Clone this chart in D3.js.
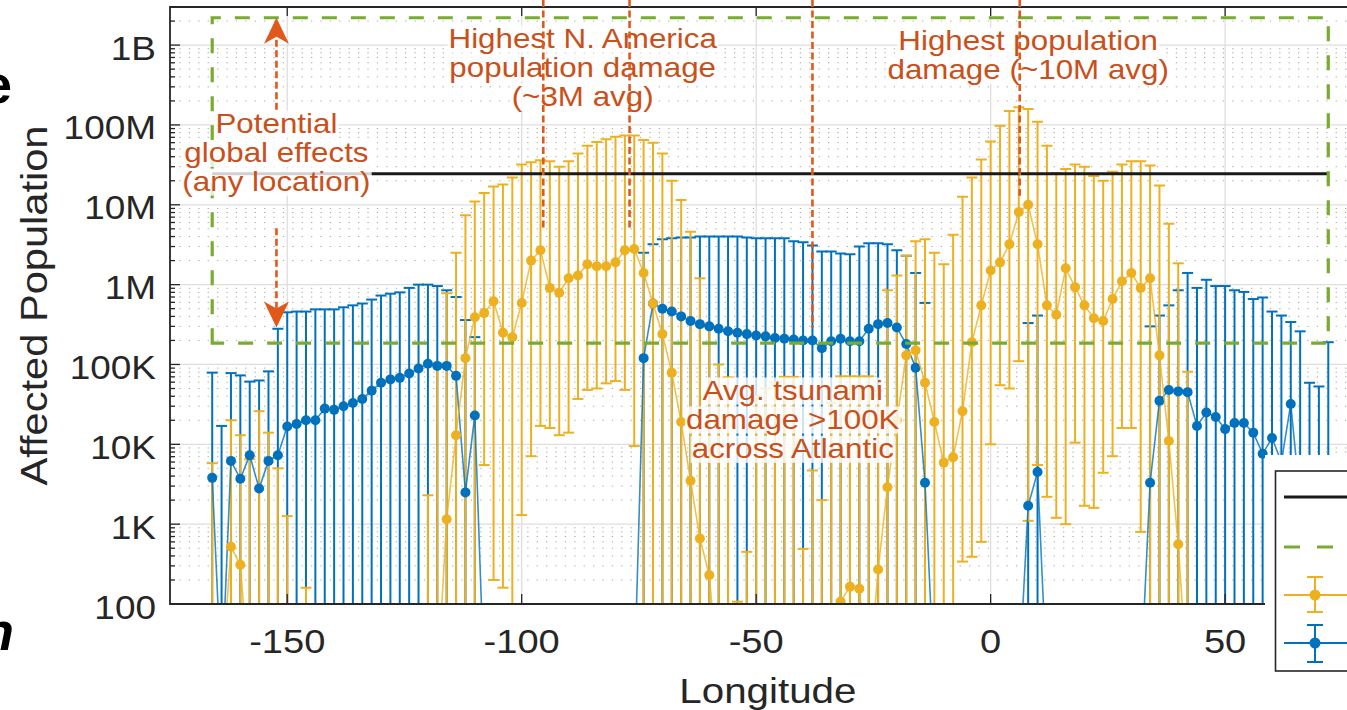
<!DOCTYPE html>
<html>
<head>
<meta charset="utf-8">
<script src="https://cdn.jsdelivr.net/npm/d3@7"></script>
<style>
  body { margin: 0; background: #fff; }
  svg { display: block; }
  text { font-family: "Liberation Sans", Arial, Helvetica, sans-serif; }
</style>
</head>
<body>
<svg id="chart" width="1347" height="710"></svg>
<script>
// longitude of each sample
const lons = [
  -166,-164,-162,-160,-158,-156,-154,-152,-150,-148,
  -146,-144,-142,-140,-138,-136,-134,-132,-130,-128,
  -126,-124,-122,-120,-118,-116,-114,-112,-110,-108,
  -106,-104,-102,-100,-98,-96,-94,-92,-90,-88,
  -86,-84,-82,-80,-78,-76,-74,-72,-70,-68,
  -66,-64,-62,-60,-58,-56,-54,-52,-50,-48,
  -46,-44,-42,-40,-38,-36,-34,-32,-30,-28,
  -26,-24,-22,-20,-18,-16,-14,-12,-10,-8,
  -6,-4,-2,0,2,4,6,8,10,12,
  14,16,18,20,22,24,26,28,30,32,
  34,36,38,40,42,44,46,48,50,52,
  54,56,58,60,62,64,66,68,70,72
];

// yellow series: mean, upper bar end, lower bar end (0 = runs off the bottom)
const yellowMean = [
  0,0,520,310,0,0,0,0,0,0,
  0,0,0,0,0,0,0,0,0,0,
  0,0,0,0,0,1150,1.3e4,1.2e5,3.9e5,4.4e5,
  6.2e5,2.5e5,2.2e5,5.9e5,2.0e6,2.7e6,9.1e5,7.9e5,1.2e6,1.3e6,
  1.8e6,1.7e6,1.7e6,1.9e6,2.7e6,2.8e6,1.4e6,5.8e5,2.4e5,7.9e4,
  1.9e4,3.5e3,660,230,0,0,0,0,0,0,
  0,0,0,0,0,0,0,107,165,155,
  0,270,2.9e3,2.0e4,1.3e5,1.5e5,5.9e4,1.9e4,5.9e3,6.9e3,
  2.6e4,1.9e5,5.5e5,1.5e6,1.9e6,3.2e6,8.1e6,1.0e7,3.2e6,5.5e5,
  4.2e5,1.6e6,9.3e5,5.5e5,3.8e5,3.5e5,6.6e5,1.1e6,1.4e6,9.1e5,
  1.2e6,1.3e5,1.1e4,560,0,0,0,0,0,0,
  0,0,0,0,0,0,0,0,0,0
];
const yellowHigh = [
  5.8e3,null,2.0e4,1.3e4,6.5e3,2.6e4,1.4e4,5.0e3,1.26e3,null,
  160,null,null,null,null,null,null,null,null,null,
  null,null,null,2.3e3,9.5e4,7.8e5,2.5e6,7.4e6,1.1e7,1.4e7,
  1.7e7,1.8e7,2.2e7,3.2e7,3.4e7,3.6e7,3.5e7,3.0e7,3.5e7,4.4e7,
  5.5e7,6.1e7,6.6e7,7.1e7,7.4e7,7.4e7,6.5e7,6.0e7,4.4e7,2.0e7,
  1.15e7,4.6e6,1.2e6,3e5,1.0e5,6.9e4,107,450,4e4,5e4,
  6e4,7e4,7e4,490,4.7e3,2e3,3.3e4,7.1e4,7.1e4,7.1e4,
  7.1e4,4.7e4,8.5e5,1.3e6,2.3e6,3.5e6,3.7e6,2.5e6,1.8e6,4.2e6,
  1.26e7,2.2e7,3.7e7,6.2e7,9.8e7,1.5e8,1.66e8,1.58e8,1.1e8,5.5e7,
  2.5e7,2.8e7,3.2e7,3.0e7,2.3e7,2.0e7,2.6e7,3.2e7,3.5e7,3.5e7,
  3.1e7,1.75e7,5.8e6,1.85e6,8.1e4,null,null,null,null,null,
  null,null,null,null,null,null,null,null,null,null
];
const yellowLow = [
  0,0,0,0,0,0,0,0,0,0,
  0,0,0,0,0,0,0,0,0,0,
  0,0,0,0,0,0,0,0,0,5.5e3,
  200,160,0,1.3e3,7.1e3,1.7e4,1.6e4,1.3e4,1.4e4,3.7e4,
  4.8e4,5.0e4,5.8e4,6.2e4,4.8e4,9.5e3,0,0,0,0,
  0,0,0,0,0,0,0,0,0,0,
  0,0,0,0,0,0,0,0,0,0,
  0,0,0,0,0,0,0,0,0,0,
  340,390,600,1.0e4,5.5e4,5.0e4,1.1e5,1.1e3,5.5e3,2.2e3,
  1.2e3,1.0e3,1.05e4,1.7e3,1.6e3,4.4e3,7.1e3,1.6e4,1.6e4,800,
  0,0,0,0,0,0,0,0,0,0,
  0,0,0,0,0,0,0,0,0,0
];

// blue series: mean and upper bar end (lower ends all run off the bottom)
const blueMean = [
  3.8e3,0,6.2e3,3.7e3,7.3e3,2.8e3,6.2e3,7.3e3,1.67e4,1.8e4,
  2.0e4,2.0e4,2.8e4,2.7e4,3.0e4,3.3e4,3.7e4,4.7e4,5.9e4,6.5e4,
  6.8e4,7.7e4,8.9e4,1.02e5,9.6e4,9.6e4,7.2e4,2.5e3,2.3e4,0,
  0,0,0,0,0,0,0,0,0,0,
  0,0,0,0,0,0,1.2e5,5.8e5,5.0e5,4.6e5,
  4.0e5,3.5e5,3.2e5,3.0e5,2.8e5,2.6e5,2.5e5,2.4e5,2.3e5,2.25e5,
  2.15e5,2.1e5,2.05e5,2.0e5,2.0e5,1.6e5,1.95e5,2.1e5,1.95e5,1.95e5,
  2.8e5,3.2e5,3.3e5,2.9e5,1.8e5,9.1e4,3.3e3,0,0,0,
  0,0,0,0,0,0,0,1.7e3,4.5e3,0,
  0,0,0,0,0,0,0,0,0,0,
  3.3e3,3.5e4,4.8e4,4.6e4,4.5e4,1.7e4,2.5e4,2.2e4,1.55e4,1.85e4,
  1.85e4,1.4e4,7.6e3,1.2e4,6e3,3.2e4,2e3,1.5e3,2e3,1e3
];
const blueHigh = [
  7.9e4,1.7e4,7.8e4,7.3e4,6.1e4,6.3e4,8.2e4,2.8e5,4.5e5,4.6e5,
  4.6e5,4.9e5,4.9e5,4.9e5,5.2e5,5.5e5,5.8e5,6.5e5,7.3e5,7.7e5,
  8.0e5,9.1e5,1.0e6,1.0e6,9.6e5,8.5e5,7.0e5,3.6e5,2.2e5,null,
  null,null,null,null,null,null,null,null,null,null,
  null,null,null,null,null,null,2.5e6,3.2e6,3.7e6,3.8e6,
  3.9e6,3.9e6,4.0e6,4.0e6,4.0e6,4.0e6,4.0e6,3.9e6,3.8e6,3.8e6,
  3.8e6,3.8e6,3.5e6,3.4e6,3.1e6,2.6e6,2.6e6,2.45e6,2.4e6,3.0e6,
  3.3e6,3.3e6,3.2e6,2.7e6,2.3e6,1.4e6,5.9e5,null,null,null,
  null,null,null,null,null,null,null,3.3e5,4.1e5,null,
  null,null,null,null,null,null,null,null,null,null,
  3.0e5,4.1e5,5.5e5,8.5e5,1.4e6,9.1e5,1.15e6,9.6e5,9.6e5,8.5e5,
  8.1e5,6.6e5,6.9e5,4.6e5,4.1e5,3.4e5,2.6e5,5.9e4,5.3e4,1.9e5
];

// reference lines
const globalLevel = 2.45e7;          // solid black
const boxLons = [-166, 72];          // green dashed box
const boxLevels = [1.85e5, 2.2e9];

const yTickValues = [1e2, 1e3, 1e4, 1e5, 1e6, 1e7, 1e8, 1e9];
const yTickLabels = ["100", "1K", "10K", "100K", "1M", "10M", "100M", "1B"];
const xTickValues = [-150, -100, -50, 0, 50];

// annotation anchors (longitude of centre, baseline level of each line)
const notes = [
  { lon: -152.3, lines: ["Potential", "global effects", "(any location)"], v: [7.9e7, 3.4e7, 1.49e7] },
  { lon: -87.0,  lines: ["Highest N. America", "population damage", "(~3M avg)"], v: [9.2e8, 4.0e8, 1.73e8] },
  { lon: 8.0,    lines: ["Highest population", "damage (~10M avg)"], v: [8.7e8, 3.76e8] },
  { lon: -42.2,  lines: ["Avg. tsunami", "damage >100K", "across Atlantic"], v: [3.6e4, 1.56e4, 6.7e3] }
];
const pointers = [
  { lon: -95.4, to: 5.1e6 },
  { lon: -77.0, to: 5.1e6 },
  { lon: -38.0, to: 2.9e5 },
  { lon: 6.2,   to: 1.3e7 }
];
const arrowLon = -152.3;
const arrowUp = [1.55e8, 2.2e9];    // from, tip
const arrowDown = [5.1e6, 2.9e5];   // from, tip

const ZERO = 10;  // where zero values are drawn (below the axis floor)
const sx = 1.12;  // the original is a little stretched sideways

const yellow = '#EDB120', blue = '#0072BD', green = '#77AC30';
const orange = '#E0581A', noteInk = '#C9501A', ink = '#262626';

const pL = 170, pR = 1365.8, pT = 7, pB = 604;
const x = d3.scaleLinear().domain([-175, 80]).range([pL, pR]);
const y = d3.scaleLog().domain([100, 3e9]).range([pB, pT]);

const svg = d3.select('#chart');
svg.append('defs').append('clipPath').attr('id', 'plotClip')
  .append('rect').attr('x', pL).attr('y', pT)
  .attr('width', pR - pL).attr('height', pB - pT);

const stretched = (parent, px, py) =>
  parent.append('g').attr('transform', `translate(${px},${py}) scale(${sx},1)`);

// grid
const grid = svg.append('g');
const allTicks = y.ticks();
grid.selectAll('.minor')
  .data(allTicks.filter(t => !yTickValues.includes(t)))
  .enter().append('line')
  .attr('x1', pL).attr('x2', pR)
  .attr('y1', d => y(d)).attr('y2', d => y(d))
  .attr('stroke', '#a8a8a8').attr('stroke-width', 1)
  .attr('stroke-dasharray', '1.3 8.1');
grid.selectAll('.major')
  .data(yTickValues)
  .enter().append('line')
  .attr('x1', pL).attr('x2', pR)
  .attr('y1', d => y(d)).attr('y2', d => y(d))
  .attr('stroke', '#dedede').attr('stroke-width', 1.3);
grid.selectAll('.vmajor')
  .data(xTickValues)
  .enter().append('line')
  .attr('x1', d => x(d)).attr('x2', d => x(d))
  .attr('y1', pT).attr('y2', pB)
  .attr('stroke', '#dedede').attr('stroke-width', 1.3);

// error bars
const plot = svg.append('g').attr('clip-path', 'url(#plotClip)');

function drawBars(g, high, low, color) {
  lons.forEach((lon, i) => {
    if (high[i] == null) return;
    const cx = x(lon);
    const y1 = y(high[i]);
    const lo = low ? low[i] : 0;
    const y2 = lo > 0 ? y(lo) : pB + 6;
    g.append('line').attr('x1', cx).attr('x2', cx).attr('y1', y1).attr('y2', y2)
      .attr('stroke', color).attr('stroke-width', 2);
    g.append('line').attr('x1', cx - 5.5).attr('x2', cx + 5.5).attr('y1', y1).attr('y2', y1)
      .attr('stroke', color).attr('stroke-width', 2);
    if (lo > 0) {
      g.append('line').attr('x1', cx - 5.5).attr('x2', cx + 5.5).attr('y1', y2).attr('y2', y2)
        .attr('stroke', color).attr('stroke-width', 2);
    }
  });
}

function drawSeries(g, mean, color) {
  const line = d3.line()
    .x((d, i) => x(lons[i]))
    .y(d => y(d > 0 ? d : ZERO));
  g.append('path').datum(mean)
    .attr('d', line)
    .attr('fill', 'none')
    .attr('stroke', color).attr('stroke-width', 1.6).attr('stroke-opacity', 0.8);
  g.selectAll(null)
    .data(mean.map((v, i) => ({ v, lon: lons[i] })).filter(d => d.v > 0))
    .enter().append('circle')
    .attr('cx', d => x(d.lon)).attr('cy', d => y(d.v))
    .attr('r', 5).attr('fill', color);
}

drawBars(plot.append('g'), blueHigh, null, blue);
drawBars(plot.append('g'), yellowHigh, yellowLow, yellow);
drawSeries(plot.append('g'), blueMean, blue);
drawSeries(plot.append('g'), yellowMean, yellow);

// reference lines
plot.append('line')
  .attr('x1', x(boxLons[0])).attr('x2', x(boxLons[1]))
  .attr('y1', y(globalLevel)).attr('y2', y(globalLevel))
  .attr('stroke', '#1a1a1a').attr('stroke-width', 3);
plot.append('path')
  .attr('d', `M${x(boxLons[0])},${y(boxLevels[0])}V${y(boxLevels[1])}H${x(boxLons[1])}V${y(boxLevels[0])}Z`)
  .attr('fill', 'none').attr('stroke', green).attr('stroke-width', 3.2)
  .attr('stroke-dasharray', '15 14');

// axes box and ticks
const axes = svg.append('g').attr('stroke', ink);
axes.append('path')
  .attr('d', `M${pR},${pT}H${pL}V${pB}H${pR}`)
  .attr('fill', 'none').attr('stroke-width', 1.8);
axes.selectAll('.ytick').data(allTicks).enter().append('line')
  .attr('x1', pL).attr('x2', d => pL + (yTickValues.includes(d) ? 10 : 5))
  .attr('y1', d => y(d)).attr('y2', d => y(d)).attr('stroke-width', 1.3);
axes.selectAll('.xtickb').data(xTickValues).enter().append('line')
  .attr('x1', d => x(d)).attr('x2', d => x(d))
  .attr('y1', pB).attr('y2', pB - 10).attr('stroke-width', 1.3);
axes.selectAll('.xtickt').data(xTickValues).enter().append('line')
  .attr('x1', d => x(d)).attr('x2', d => x(d))
  .attr('y1', pT).attr('y2', pT + 9).attr('stroke-width', 1.3);

yTickValues.forEach((v, i) => {
  stretched(svg, 156, y(v) + 14.5).append('text')
    .attr('text-anchor', 'end').attr('font-size', 33).attr('fill', ink)
    .text(yTickLabels[i]);
});
xTickValues.forEach(v => {
  stretched(svg, x(v), 653).append('text')
    .attr('text-anchor', 'middle').attr('font-size', 34).attr('fill', ink)
    .text(v);
});
stretched(svg, (pL + pR) / 2, 703).append('text')
  .attr('text-anchor', 'middle').attr('font-size', 36).attr('fill', ink)
  .text('Longitude');
svg.append('text')
  .attr('transform', `translate(47,${(pT + pB) / 2}) rotate(-90)`)
  .attr('text-anchor', 'middle').attr('font-size', 37).attr('fill', ink)
  .attr('textLength', 360).attr('lengthAdjust', 'spacingAndGlyphs')
  .text('Affected Population');

// annotations
const noteLayer = svg.append('g');
notes.forEach(n => {
  const g = noteLayer.append('g');
  const rows = n.lines.map((str, k) => {
    const tg = stretched(g, x(n.lon), y(n.v[k]));
    tg.append('text').attr('text-anchor', 'middle').attr('font-size', 28)
      .attr('fill', noteInk).text(str);
    return tg;
  });
  rows.forEach(tg => {
    const b = tg.node().getBBox();
    tg.insert('rect', 'text')
      .attr('x', b.x - 1).attr('y', b.y + 3).attr('width', b.width + 2).attr('height', b.height - 4)
      .attr('fill', '#fff').attr('fill-opacity', 0.8);
  });
});

const pointerLayer = svg.append('g').attr('stroke', orange).attr('stroke-width', 2.6)
  .attr('stroke-dasharray', '7 3.5');
pointers.forEach(p => {
  pointerLayer.append('line')
    .attr('x1', x(p.lon)).attr('x2', x(p.lon))
    .attr('y1', 0).attr('y2', y(p.to));
});

function arrow(from, tip) {
  const ax = x(arrowLon);
  const y0 = y(from), y1 = y(tip);
  const dir = y1 < y0 ? -1 : 1;
  pointerLayer.append('line')
    .attr('x1', ax).attr('x2', ax).attr('y1', y0).attr('y2', y1 - dir * 14);
  svg.append('path')
    .attr('d', `M${ax},${y1}L${ax - 12.5},${y1 - dir * 26}L${ax},${y1 - dir * 19}L${ax + 12.5},${y1 - dir * 26}Z`)
    .attr('fill', orange);
}
arrow(arrowUp[0], arrowUp[1]);
arrow(arrowDown[0], arrowDown[1]);

// legend (labels fall outside the picture)
svg.append('rect').attr('x', 1265).attr('y', 455).attr('width', 120).attr('height', 260).attr('fill', '#fff');
const lg = svg.append('g');
lg.append('rect').attr('x', 1275.5).attr('y', 471).attr('width', 110).attr('height', 200)
  .attr('fill', '#fff').attr('stroke', ink).attr('stroke-width', 1.6);
lg.append('line').attr('x1', 1284).attr('x2', 1350).attr('y1', 497).attr('y2', 497)
  .attr('stroke', '#1a1a1a').attr('stroke-width', 3);
lg.append('line').attr('x1', 1284).attr('x2', 1350).attr('y1', 547).attr('y2', 547)
  .attr('stroke', green).attr('stroke-width', 3.2).attr('stroke-dasharray', '16 17');
[[yellow, 595, 577, 612], [blue, 643, 625, 662]].forEach(([c, cy, t, b]) => {
  lg.append('line').attr('x1', 1284).attr('x2', 1350).attr('y1', cy).attr('y2', cy)
    .attr('stroke', c).attr('stroke-width', 2);
  lg.append('line').attr('x1', 1315).attr('x2', 1315).attr('y1', t).attr('y2', b)
    .attr('stroke', c).attr('stroke-width', 2);
  [t, b].forEach(v => lg.append('line').attr('x1', 1307).attr('x2', 1323).attr('y1', v).attr('y2', v)
    .attr('stroke', c).attr('stroke-width', 2));
  lg.append('circle').attr('cx', 1315).attr('cy', cy).attr('r', 5.5).attr('fill', c);
});

// fragments of neighbouring text cut by the crop
svg.append('text').attr('x', 12).attr('y', 103).attr('text-anchor', 'end')
  .attr('font-size', 54).attr('font-weight', 'bold').attr('fill', '#000').text('e');
svg.append('text').attr('x', 14).attr('y', 650).attr('text-anchor', 'end')
  .attr('font-size', 54).attr('font-weight', 'bold').attr('font-style', 'italic').attr('fill', '#000').text('n');
</script>
</body>
</html>
